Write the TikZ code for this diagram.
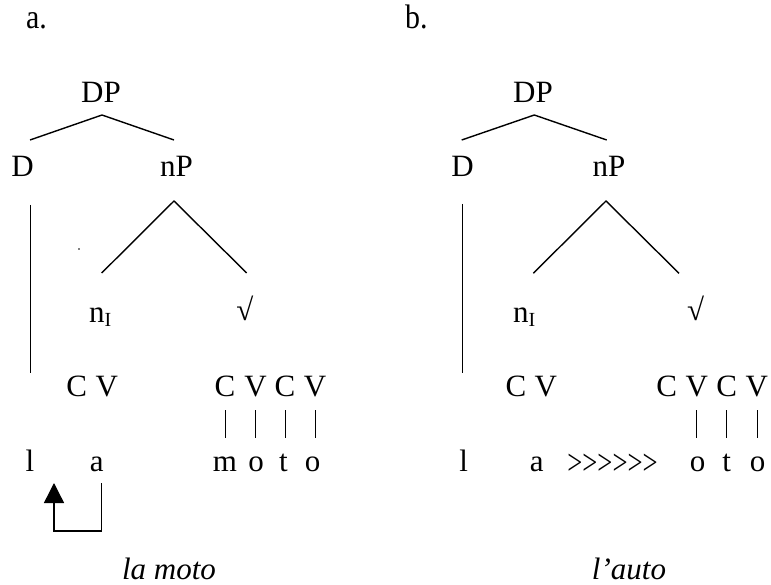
\documentclass[tikz,border=0pt]{standalone}
\usepackage{fontspec}
\usepackage{graphicx}
\setmainfont{Liberation Serif}
\usetikzlibrary{arrows.meta}

\tikzset{
  txt/.style={font=\fontsize{31}{36}\selectfont, inner sep=0pt, anchor=base},
  exname/.style={font=\fontsize{31}{36}\selectfont\itshape, inner sep=0pt, anchor=base},
  exlabel/.style={font=\fontsize{34}{40}\selectfont, inner sep=0pt, anchor=base west, xscale=0.88},
  branch/.style={line width=1.4pt},
  assoc/.style={line width=1pt},
  movearrow/.style={line width=1.4pt, -{Triangle[width=20pt,length=20pt]}},
}
\newcommand{\nI}{n{\fontsize{20}{22}\selectfont\raisebox{-4pt}{I}}}

\begin{document}
\begin{tikzpicture}[x=1pt,y=-1pt]
\useasboundingbox (0,0) rectangle (771,585);

% ---------------- (a) la moto ----------------
\node[exlabel] (tagA) at (26,29) {a.};
\node[txt] (aDP) at (101,103) {DP};
\node[txt] (aD)  at (22.5,177) {D};
\node[txt] (anP) at (176.5,177) {nP};
\node[txt, anchor=base west] (anI) at (89,323) {\nI};
\node[txt] (aRt) at (245,320) {√};

\coordinate (aDPtop) at (102,115);
\coordinate (aDPl)   at (30,140);
\coordinate (aDPr)   at (174,140);
\draw[branch] (aDPl) -- (aDPtop) -- (aDPr);

\coordinate (anPtop) at (174,201);
\coordinate (anPl)   at (101.7,273);
\coordinate (anPr)   at (246.7,273);
\draw[branch] (anPl) -- (anPtop) -- (anPr);

\coordinate (aDtop) at (30.7,205);
\coordinate (aDbot) at (30.7,373);
\draw[branch] (aDtop) -- (aDbot);

\fill (79,249) circle (0.9pt);

% skeleton
\node[txt] (aC1) at (76.7,396.5) {C};
\node[txt] (aV1) at (106.7,396.5) {V};
\node[txt] (aC2) at (225,396.5) {C};
\node[txt] (aV2) at (255.5,396.5) {V};
\node[txt] (aC3) at (285,396.5) {C};
\node[txt] (aV3) at (315,396.5) {V};

% melody
\node[txt] (al)  at (30,471) {l};
\node[txt] (aa)  at (96.7,471) {a};
\node[txt] (am)  at (225,471) {m};
\node[txt] (ao1) at (256,471) {o};
\node[txt] (at)  at (283.5,471) {t};
\node[txt] (ao2) at (312.5,471) {o};

\foreach \x/\n in {225/1,255/2,285/3,315/4}{
  \coordinate (aA\n) at (\x,410);
  \coordinate (aB\n) at (\x,438);
  \draw[assoc] (aA\n) -- (aB\n);
}

% leftward shift of the vowel
\coordinate (aSa) at (101.7,483);
\coordinate (aSb) at (101.7,531);
\coordinate (aSc) at (54,531);
\coordinate (aSd) at (54,483);
\draw[movearrow] (aSa) -- (aSb) -- (aSc) -- (aSd);

\node[exname] (capA) at (169,579) {la moto};

% ---------------- (b) l'auto ----------------
\node[exlabel] (tagB) at (405,28.5) {b.};
\node[txt] (bDP) at (533,103) {DP};
\node[txt] (bD)  at (462.5,177) {D};
\node[txt] (bnP) at (609,177) {nP};
\node[txt, anchor=base west] (bnI) at (513,323) {\nI};
\node[txt] (bRt) at (695.5,320) {√};

\coordinate (bDPtop) at (534.3,115);
\coordinate (bDPl)   at (461.7,140);
\coordinate (bDPr)   at (606.7,140);
\draw[branch] (bDPl) -- (bDPtop) -- (bDPr);

\coordinate (bnPtop) at (606,201);
\coordinate (bnPl)   at (533.3,273.3);
\coordinate (bnPr)   at (679,273.3);
\draw[branch] (bnPl) -- (bnPtop) -- (bnPr);

\coordinate (bDtop) at (462.3,204);
\coordinate (bDbot) at (462.3,373);
\draw[branch] (bDtop) -- (bDbot);

% skeleton
\node[txt] (bC1) at (516,396.5) {C};
\node[txt] (bV1) at (545.8,396.5) {V};
\node[txt] (bC2) at (666.7,396.5) {C};
\node[txt] (bV2) at (696.7,396.5) {V};
\node[txt] (bC3) at (726.7,396.5) {C};
\node[txt] (bV3) at (756.7,396.5) {V};

% melody
\node[txt] (bl)  at (463.7,471) {l};
\node[txt] (ba)  at (536.7,471) {a};
\node[txt] (bgt) at (612.5,471) {\raisebox{-3pt}{\scalebox{0.86}[1.15]{{>}{>}{>}{>}{>}{>}}}};
\node[txt] (bo1) at (697.5,471) {o};
\node[txt] (bt)  at (726.7,471) {t};
\node[txt] (bo2) at (757.5,471) {o};

\foreach \x/\n in {696.7/1,726.7/2,757.3/3}{
  \coordinate (bA\n) at (\x,410);
  \coordinate (bB\n) at (\x,438);
  \draw[assoc] (bA\n) -- (bB\n);
}

\node[exname] (capB) at (629,579) {l’auto};
\end{tikzpicture}
\end{document}
